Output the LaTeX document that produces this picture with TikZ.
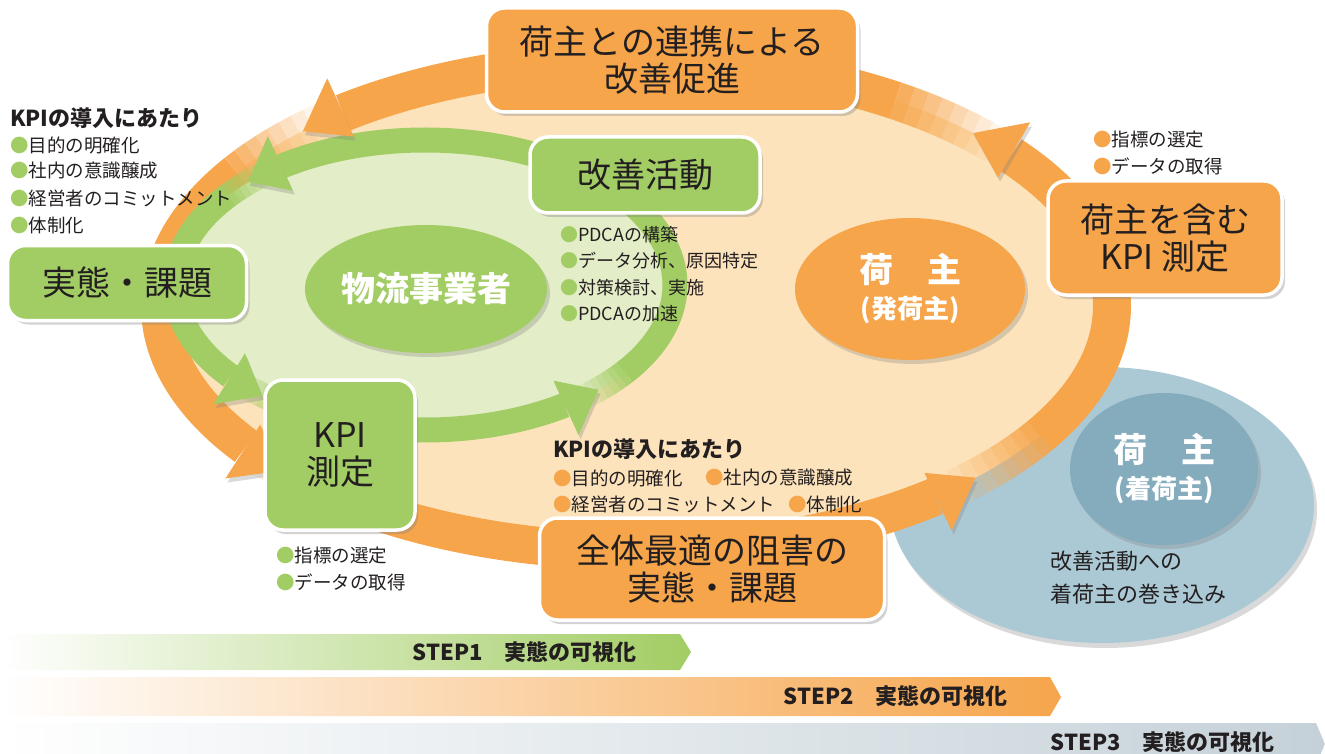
\documentclass[tikz,border=0pt]{standalone}
\usepackage{fontspec}
\setmainfont{Noto Sans CJK JP}
\usetikzlibrary{shapes.geometric,calc,shadows}
\newcommand{\gbul}{{\color{kgreen}●}}
\newcommand{\obul}{{\color{korange}●}}

\begin{document}
\begin{tikzpicture}[x=1pt,y=-1pt,
  box/.style={rounded corners=18pt,draw=white,line width=3.5pt,align=center,text=kink,inner sep=0pt,font=\fontsize{34}{37}\selectfont,drop shadow={shadow xshift=3pt,shadow yshift=-4pt,opacity=0.35}},
  greenbox/.style={box,fill=kgreen},
  orangebox/.style={box,fill=korange},
  blob/.style={ellipse,inner sep=0pt,align=center,text=white,font=\bfseries\fontsize{34}{38}\selectfont,drop shadow={shadow xshift=3pt,shadow yshift=-4pt,opacity=0.3}},
  listtext/.style={anchor=west,inner sep=0pt,text=kink,font=\fontsize{18.5}{22}\selectfont},
  heading/.style={listtext,font=\bfseries\fontsize{22}{26}\selectfont},
  steptext/.style={anchor=east,inner sep=0pt,text=kink,font=\bfseries\fontsize{22}{26}\selectfont},
  oband/.style={draw=korange,line width=38pt},
  gband/.style={draw=kgreen,line width=25pt},
  headshadow/.style={drop shadow={shadow xshift=2pt,shadow yshift=-4pt,opacity=0.3}}]
\definecolor{korange}{HTML}{F6A54B}
\definecolor{kgreen}{HTML}{A2CD64}
\definecolor{kpeach}{HTML}{FDE3BB}
\definecolor{klightgreen}{HTML}{E3EDC7}
\definecolor{kbluelight}{HTML}{ABC9D5}
\definecolor{kbluedark}{HTML}{84ACBD}
\definecolor{kstepgray}{HTML}{C5D1D8}
\definecolor{kink}{HTML}{231F20}
\useasboundingbox (0,0) rectangle (1325,754);

\fill[kbluelight,drop shadow={shadow xshift=3pt,shadow yshift=-5pt,opacity=0.3}] (1102,505) ellipse [x radius=212,y radius=138];
\fill[kpeach] (636,306) ellipse [x radius=476,y radius=245];
\foreach \s/\e in {303/232,213/145,126/51,32/-38}
  {\draw[oband] ($(636,306)+(\s:476 and 245)$) arc[start angle=\s,end angle=\e,x radius=476,y radius=245];}
\foreach \T in {225,138,44,-45}
  {\foreach \i [evaluate=\i as \sa using \T+6-2*\i, evaluate=\i as \ea using \T+4-2*\i, evaluate=\i as \op using \i/9] in {1,...,8}
    {\draw[oband,opacity=\op] ($(636,306)+(\sa:476 and 245)$) arc[start angle=\sa,end angle=\ea,x radius=476,y radius=245];}}

\fill[klightgreen] (425,285) ellipse [x radius=250,y radius=145];
\foreach \s/\e in {340/235,218/141,123/56,37/-25}
  {\draw[gband] ($(425,285)+(\s:250 and 145)$) arc[start angle=\s,end angle=\e,x radius=250,y radius=145];}
\foreach \T in {228,133,47}
  {\foreach \i [evaluate=\i as \sa using \T+6-2*\i, evaluate=\i as \ea using \T+4-2*\i, evaluate=\i as \op using \i/8] in {1,...,7}
    {\draw[gband,opacity=\op] ($(425,285)+(\sa:250 and 145)$) arc[start angle=\sa,end angle=\ea,x radius=250,y radius=145];}}

\foreach \t/\b in {225/232,138/145,44/51,-45/-38}
  {\coordinate (ohtip) at ($(636,306)+(\t:476 and 245)$);
   \coordinate (ohbase) at ($(636,306)+(\b:476 and 245)$);
   \fill[korange,headshadow] ($(ohbase)!44pt!(ohtip)$) -- ($(ohbase)!38pt!-90:(ohtip)$) -- ($(ohbase)!26pt!90:(ohtip)$) -- cycle;}
\foreach \t/\b in {228/235,133/141,47/56}
  {\coordinate (ghtip) at ($(425,285)+(\t:250 and 145)$);
   \coordinate (ghbase) at ($(425,285)+(\b:250 and 145)$);
   \fill[kgreen,headshadow] ($(ghbase)!37pt!(ghtip)$) -- ($(ghbase)!33pt!-90:(ghtip)$) -- ($(ghbase)!27pt!90:(ghtip)$) -- cycle;}

\node[blob,fill=kgreen,minimum width=242pt,minimum height=128pt] (butsuryu) at (426,289) {物流事業者};
\node[blob,fill=korange,minimum width=230pt,minimum height=142pt] (hatsu) at (910,289) {荷\quad 主\\[-2pt]\fontsize{26}{30}\selectfont (発荷主)};
\node[blob,fill=kbluedark,minimum width=188pt,minimum height=152pt] (chaku) at (1164,469) {荷\quad 主\\[-2pt]\fontsize{26}{30}\selectfont (着荷主)};

\node[orangebox,minimum width=371pt,minimum height=104pt] (renkei) at (672,60) {荷主との連携による\\改善促進};
\node[greenbox,minimum width=230pt,minimum height=76pt] (kaizen) at (645,175) {改善活動};
\node[greenbox,minimum width=239pt,minimum height=75pt] (jittai) at (127,283) {実態・課題};
\node[greenbox,minimum width=150pt,minimum height=150pt] (kpi) at (340,455) {KPI\\測定};
\node[orangebox,minimum width=234pt,minimum height=114pt] (ninushikpi) at (1165,238) {荷主を含む\\KPI 測定};
\node[orangebox,minimum width=345pt,minimum height=102pt] (zentai) at (712,569) {全体最適の阻害の\\実態・課題};

\node[heading] (dounyuA) at (10,118) {KPIの導入にあたり};
\foreach \txt/\ypos in {目的の明確化/145,社内の意識醸成/171,経営者のコミットメント/198,体制化/225}
  {\node[listtext] (dounyuA\ypos) at (10,\ypos) {\gbul\txt};}
\foreach \txt/\ypos in {PDCAの構築/235,データ分析、原因特定/261,対策検討、実施/288,PDCAの加速/314}
  {\node[listtext,font=\fontsize{18}{22}\selectfont] (pdca\ypos) at (560,\ypos) {\gbul\txt};}
\node[heading] (dounyuB) at (553,449) {KPIの導入にあたり};
\foreach \txt/\xpos/\ypos in {目的の明確化/553/478,社内の意識醸成/705/478,経営者のコミットメント/553/504,体制化/788/504}
  {\node[listtext] (dounyuB\xpos\ypos) at (\xpos,\ypos) {\obul\txt};}
\foreach \txt/\ypos in {指標の選定/140,データの取得/166}
  {\node[listtext] (shihyoA\ypos) at (1093,\ypos) {\obul\txt};}
\foreach \txt/\ypos in {指標の選定/556,データの取得/582}
  {\node[listtext] (shihyoB\ypos) at (276,\ypos) {\gbul\txt};}
\node[listtext,align=left,font=\fontsize{22}{33}\selectfont] (makikomi) at (1050,578) {改善活動への\\着荷主の巻き込み};

\shade[left color=white,right color=kgreen] (0,634) -- (680,634) -- (691,652) -- (680,670) -- (0,670) -- cycle;
\shade[left color=white,right color=korange] (0,677) -- (1050,677) -- (1061,697) -- (1050,716) -- (0,716) -- cycle;
\shade[left color=white,right color=kstepgray] (0,723) -- (1316,723) -- (1325,744) -- (1316,765) -- (0,765) -- cycle;
\node[steptext] (step1) at (637,652) {STEP1　実態の可視化};
\node[steptext] (step2) at (1008,696) {STEP2　実態の可視化};
\node[steptext] (step3) at (1275,742) {STEP3　実態の可視化};
\end{tikzpicture}
\end{document}
